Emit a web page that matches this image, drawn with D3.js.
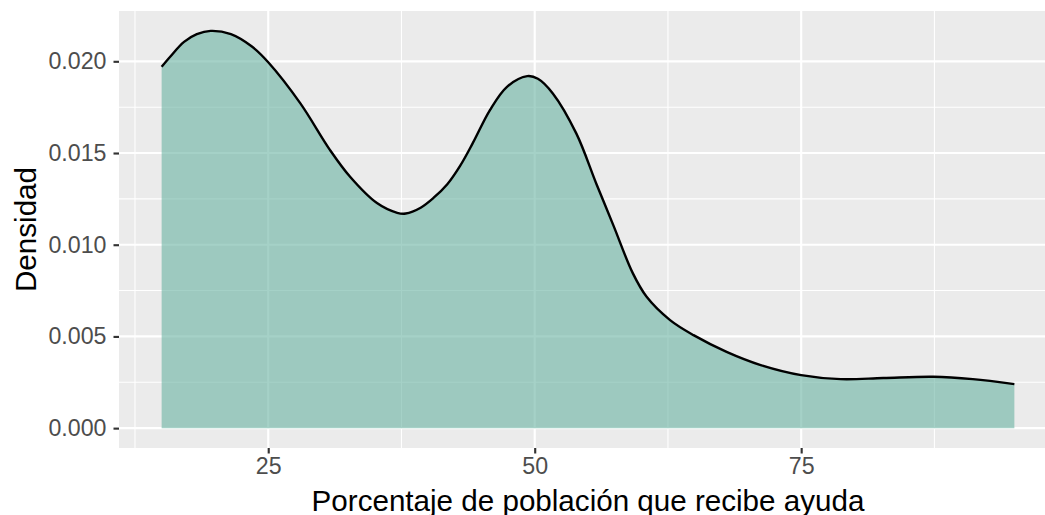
<!DOCTYPE html>
<html>
<head>
<meta charset="utf-8">
<script src="https://cdn.jsdelivr.net/npm/d3@7"></script>
<style>
  html, body { margin: 0; padding: 0; background: #ffffff; }
  svg { display: block; font-family: "Liberation Sans", Arial, Helvetica, sans-serif; }
</style>
</head>
<body>
<svg id="chart" width="1045" height="515"></svg>
<script>
// Density estimate of "Porcentaje de población que recibe ayuda"
const xValues = [15, 15.8, 17.1, 18.3, 19.6, 21.5, 23.5, 25, 28, 30.8, 32.7, 35.2, 37.1, 37.9, 39.3, 40.5, 41.8, 43, 44.2, 45.8, 47.4, 49.3, 50.3, 51.7, 53.9, 55.8, 57.4, 59.2, 60.5, 62.7, 64.9, 68, 71.2, 75, 78.7, 82.7, 87.4, 91.1, 95];
const densityValues = [0.0197, 0.02025, 0.02106, 0.02148, 0.02166, 0.02148, 0.02079, 0.01995, 0.01772, 0.01516, 0.01369, 0.01227, 0.01174, 0.0117, 0.01202, 0.01255, 0.0133, 0.0143, 0.01555, 0.01734, 0.01861, 0.01919, 0.01905, 0.01825, 0.01607, 0.0133, 0.01103, 0.00845, 0.00716, 0.00589, 0.00507, 0.00416, 0.00344, 0.00289, 0.00267, 0.00273, 0.0028, 0.00267, 0.0024];
const xTicks = [25, 50, 75];
const xMinorTicks = [12.5, 37.5, 62.5, 87.5];
const yTicks = [0, 0.005, 0.010, 0.015, 0.020];
const yMinorTicks = [0.0025, 0.0075, 0.0125, 0.0175];
const xLabel = "Porcentaje de población que recibe ayuda";
const yLabel = "Densidad";

const data = xValues.map((x, i) => ({ x, y: densityValues[i] }));

const svg = d3.select("#chart");
const panel = { left: 119, top: 11, right: 1057, bottom: 448 };

// ggplot-style 5% expansion
const xMin = 15, xMax = 95, xPad = (xMax - xMin) * 0.05;
const yMax = d3.max(densityValues), yPad = yMax * 0.05;

const x = d3.scaleLinear().domain([xMin - xPad, xMax + xPad]).range([panel.left, panel.right]);
const y = d3.scaleLinear().domain([-yPad, yMax + yPad]).range([panel.bottom, panel.top]);

// panel background
svg.append("rect")
  .attr("x", panel.left).attr("y", panel.top)
  .attr("width", panel.right - panel.left).attr("height", panel.bottom - panel.top)
  .attr("fill", "#EBEBEB");

const grid = svg.append("g");
// minor gridlines
grid.selectAll(".ymin").data(yMinorTicks).enter().append("line")
  .attr("x1", panel.left).attr("x2", panel.right)
  .attr("y1", d => y(d)).attr("y2", d => y(d))
  .attr("stroke", "#fff").attr("stroke-width", 1.07);
grid.selectAll(".xmin").data(xMinorTicks).enter().append("line")
  .attr("y1", panel.top).attr("y2", panel.bottom)
  .attr("x1", d => x(d)).attr("x2", d => x(d))
  .attr("stroke", "#fff").attr("stroke-width", 1.07);
// major gridlines
grid.selectAll(".ymaj").data(yTicks).enter().append("line")
  .attr("x1", panel.left).attr("x2", panel.right)
  .attr("y1", d => y(d)).attr("y2", d => y(d))
  .attr("stroke", "#fff").attr("stroke-width", 2.13);
grid.selectAll(".xmaj").data(xTicks).enter().append("line")
  .attr("y1", panel.top).attr("y2", panel.bottom)
  .attr("x1", d => x(d)).attr("x2", d => x(d))
  .attr("stroke", "#fff").attr("stroke-width", 2.13);

// density area
const curve = d3.curveCatmullRom.alpha(0.5);
svg.append("path")
  .datum(data)
  .attr("d", d3.area().x(d => x(d.x)).y0(y(0)).y1(d => y(d.y)).curve(curve))
  .attr("fill", "rgb(105,179,162)")
  .attr("fill-opacity", 0.6);

svg.append("path")
  .datum(data)
  .attr("d", d3.line().x(d => x(d.x)).y(d => y(d.y)).curve(curve))
  .attr("fill", "none")
  .attr("stroke", "#000")
  .attr("stroke-width", 2.4)
  .attr("stroke-linejoin", "round");

// axes
const tickFont = 23.2;
const xAxis = svg.append("g")
  .attr("transform", `translate(0,${panel.bottom})`)
  .call(d3.axisBottom(x).tickValues(xTicks).tickSize(5.5).tickPadding(4.5).tickFormat(d3.format("d")));
xAxis.select(".domain").remove();
xAxis.selectAll(".tick line").attr("stroke", "#333333").attr("stroke-width", 2.13);
xAxis.selectAll(".tick text").attr("fill", "#4D4D4D").attr("font-size", tickFont)
  .attr("font-family", "Liberation Sans, Arial, sans-serif");

const yAxis = svg.append("g")
  .attr("transform", `translate(${panel.left},0)`)
  .call(d3.axisLeft(y).tickValues(yTicks).tickSize(5.5).tickPadding(7).tickFormat(d3.format(".3f")));
yAxis.select(".domain").remove();
yAxis.selectAll(".tick line").attr("stroke", "#333333").attr("stroke-width", 2.13);
yAxis.selectAll(".tick text").attr("fill", "#4D4D4D").attr("font-size", tickFont)
  .attr("font-family", "Liberation Sans, Arial, sans-serif");

// axis titles
svg.append("text")
  .attr("x", (panel.left + panel.right) / 2)
  .attr("y", 511)
  .attr("text-anchor", "middle")
  .attr("font-size", 29.6)
  .attr("fill", "#000")
  .text(xLabel);

svg.append("text")
  .attr("transform", `translate(36,${(panel.top + panel.bottom) / 2}) rotate(-90)`)
  .attr("text-anchor", "middle")
  .attr("font-size", 29.6)
  .attr("fill", "#000")
  .text(yLabel);
</script>
</body>
</html>
